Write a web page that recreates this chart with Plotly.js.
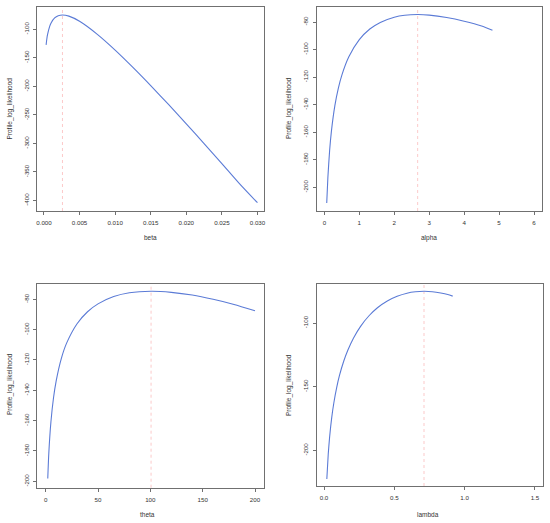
<!DOCTYPE html>
<html>
<head>
<meta charset="utf-8">
<script src="https://cdn.plot.ly/plotly-3.0.1.min.js"></script>
<style>html,body{margin:0;padding:0;background:#fff;}#chart{width:550px;height:523px;}</style>
</head>
<body>
<div id="chart"></div>
<script>
// ---- data ----
const betaVals = [0.0003, 0.0004, 0.0005, 0.0008, 0.001, 0.0015, 0.002, 0.0026, 0.0035, 0.005, 0.0075, 0.010, 0.0125, 0.015, 0.0175, 0.020, 0.0225, 0.025, 0.0275, 0.030];
const betaLL   = [-127.3, -117.1, -109.5, -94.9, -88.9, -80.2, -76.3, -75.0, -77.0, -86.0, -108.9, -136.5, -166.8, -198.7, -231.8, -265.7, -300.3, -335.4, -371.0, -404.0];

const alphaVals = [0.067, 0.1, 0.15, 0.2, 0.3, 0.4, 0.5, 0.7, 1.0, 1.3, 1.6, 2.0, 2.3, 2.67, 3.0, 3.5, 4.0, 4.5, 4.81];
const alphaLL   = [-211.5, -193.0, -173.3, -159.6, -140.8, -128.1, -118.6, -105.3, -92.8, -85.1, -80.3, -76.5, -75.1, -74.6, -75.0, -76.7, -79.4, -82.9, -86.0];

const thetaVals = [2, 3, 5, 7.5, 10, 15, 20, 30, 40, 50, 65, 80, 100.7, 120, 140, 160, 180, 200];
const thetaLL   = [-198.1, -181.5, -160.9, -144.9, -133.9, -118.9, -108.9, -96.1, -88.2, -83.0, -78.2, -75.7, -74.7, -75.4, -77.2, -80.0, -83.4, -87.6];

const lambdaVals = [0.02, 0.03, 0.04, 0.055, 0.07, 0.09, 0.11, 0.14, 0.17, 0.21, 0.26, 0.32, 0.38, 0.45, 0.52, 0.59, 0.65, 0.711, 0.77, 0.83, 0.88, 0.915];
const lambdaLL   = [-222.5, -203.1, -189.3, -174.1, -162.6, -150.7, -141.2, -130.0, -121.2, -111.7, -102.6, -94.3, -88.0, -82.7, -79.0, -76.6, -75.5, -75.1, -75.4, -76.4, -77.6, -78.9];

const mleBeta = 0.0026, mleAlpha = 2.67, mleTheta = 100.7, mleLambda = 0.711;

const betaTicks   = [0, 0.005, 0.010, 0.015, 0.020, 0.025, 0.030];
const betaTickText = ["0.000", "0.005", "0.010", "0.015", "0.020", "0.025", "0.030"];
const alphaTicks  = [0, 1, 2, 3, 4, 5, 6];
const thetaTicks  = [0, 50, 100, 150, 200];
const lambdaTicks = [0, 0.5, 1.0, 1.5];
const lambdaTickText = ["0.0", "0.5", "1.0", "1.5"];

const llTicks1 = [-100, -150, -200, -250, -300, -350, -400];
const llTicks2 = [-80, -100, -120, -140, -160, -180, -200];
const llTicks4 = [-100, -150, -200];

const yTitle = "Profile_log_likelihood";
const xTitles = ["beta", "alpha", "theta", "lambda"];

// ---- drawing ----
const W = 550, H = 523;
const FONT = "Liberation Sans, Arial, Helvetica, sans-serif";
const curveColor = "#5b7bd6";

function trace(x, y, ax) {
  return {x: x, y: y, xaxis: "x" + ax, yaxis: "y" + ax, type: "scatter", mode: "lines",
          line: {color: curveColor, width: 1.1, shape: "spline", smoothing: 0.6}, hoverinfo: "skip", showlegend: false};
}
const data = [
  trace(betaVals, betaLL, ""),
  trace(alphaVals, alphaLL, "2"),
  trace(thetaVals, thetaLL, "3"),
  trace(lambdaVals, lambdaLL, "4")
];

function xax(domain, range, tv, tt, anchor) {
  return {domain: domain, range: range, anchor: anchor, tickmode: "array", tickvals: tv, ticktext: tt,
          showline: true, mirror: true, linecolor: "#707070", linewidth: 1, ticks: "outside", ticklen: 3,
          tickcolor: "#707070", tickwidth: 1, showgrid: false, zeroline: false,
          tickfont: {family: FONT, size: 6.2, color: "#333"}, ticklabelstandoff: 3};
}
function yax(domain, range, tv, anchor) {
  const a = xax(domain, range, tv, tv.map(v => String(v)), anchor);
  a.tickangle = -90;
  a.ticklabelstandoff = 2;
  return a;
}
const px = v => v / W, py = v => 1 - v / H;

const layout = {
  width: W, height: H, margin: {l: 0, r: 0, t: 0, b: 0},
  paper_bgcolor: "#fff", plot_bgcolor: "#fff", showlegend: false,
  font: {family: FONT, color: "#333"},
  xaxis:  xax([px(37), px(264)], [-0.00098, 0.03092], betaTicks, betaTickText, "y"),
  yaxis:  yax([py(211), py(7)], [-418.5, -61], llTicks1, "x"),
  xaxis2: xax([px(316.7), px(541.7)], [-0.22, 6.22], alphaTicks, alphaTicks.map(String), "y2"),
  yaxis2: yax([py(211), py(7)], [-217.3, -69.1], llTicks2, "x2"),
  xaxis3: xax([px(37.3), px(264)], [-8, 208.6], thetaTicks, thetaTicks.map(String), "y3"),
  yaxis3: yax([py(487.7), py(284.3)], [-204.2, -70.1], llTicks2, "x3"),
  xaxis4: xax([px(316.7), px(542.7)], [-0.052, 1.555], lambdaTicks, lambdaTickText, "y4"),
  yaxis4: yax([py(486), py(284.3)], [-228, -69.6], llTicks4, "x4"),
  shapes: [
    ["x", "y", mleBeta], ["x2", "y2", mleAlpha], ["x3", "y3", mleTheta], ["x4", "y4", mleLambda]
  ].map(([xr, yr, v]) => ({type: "line", xref: xr, yref: yr + " domain", x0: v, x1: v, y0: 0, y1: 1,
        line: {color: "rgba(250,150,150,0.5)", width: 1, dash: "dot"}, layer: "below"})),
  annotations: []
};

const yTitlePos = [[9.5, 109], [289, 108], [10, 384], [289, 385]];
const xTitlePos = [[150.3, 238], [429, 238], [147.7, 514], [428.3, 514]];
yTitlePos.forEach(p => layout.annotations.push({text: yTitle, xref: "paper", yref: "paper",
  x: px(p[0]), y: py(p[1]), xanchor: "center", yanchor: "middle", textangle: -90, showarrow: false,
  font: {family: FONT, size: 6.5, color: "#333"}}));
xTitlePos.forEach((p, i) => layout.annotations.push({text: xTitles[i], xref: "paper", yref: "paper",
  x: px(p[0]), y: py(p[1]), xanchor: "center", yanchor: "middle", showarrow: false,
  font: {family: FONT, size: 6.5, color: "#333"}}));

Plotly.newPlot("chart", data, layout, {staticPlot: true, displayModeBar: false});
</script>
</body>
</html>
